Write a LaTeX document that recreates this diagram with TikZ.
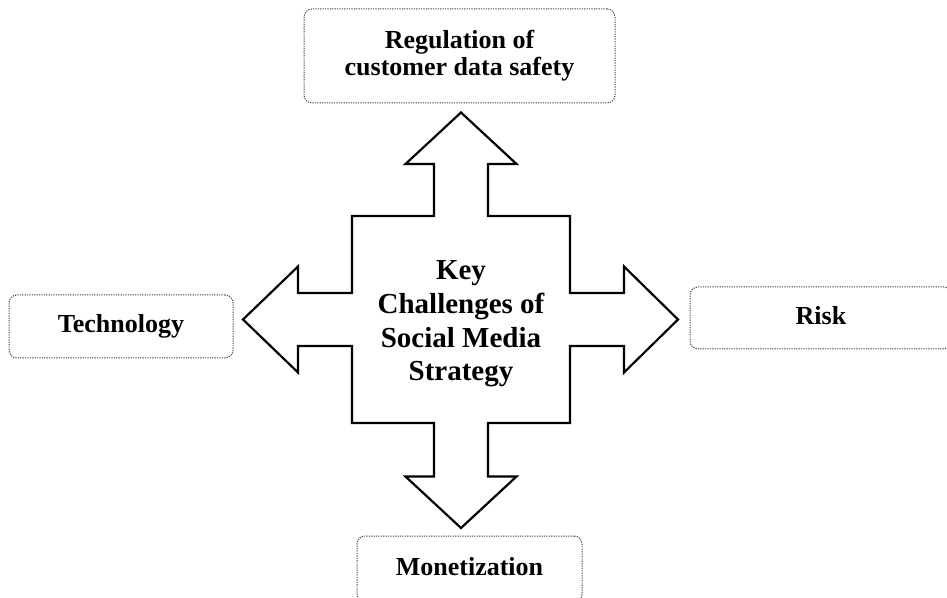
\documentclass[tikz,border=0pt]{standalone}
\usepackage{fontspec}
\setmainfont{Liberation Serif}

\begin{document}
\begin{tikzpicture}[x=0.5pt,y=-0.5pt,
  challenge/.style={draw=black!75,line width=0.5pt,dash pattern=on 0.6pt off 0.6pt,
    rounded corners=4pt,align=center,font=\fontsize{13}{13.5}\selectfont\bfseries},
  oneline/.style={text height=9pt,text depth=2.8pt}]
  \useasboundingbox (0,0) rectangle (947,598);
  \coordinate (ctr) at (461,319.5);
  % four-way arrow
  \begin{scope}[shift={(ctr)}]
    \draw[line width=1.1pt,line join=miter]
      (0,-207) -- (55.5,-155.5) -- (27,-155.5) -- (27,-103.5) -- (109,-103.5)
      -- (109,-26.5) -- (163,-26.5) -- (163,-53) -- (217,0) -- (163,53)
      -- (163,26.5) -- (109,26.5) -- (109,103.5) -- (27,103.5) -- (27,157)
      -- (55.5,157) -- (0,208.5) -- (-55.5,157) -- (-27,157) -- (-27,103.5)
      -- (-109,103.5) -- (-109,26.5) -- (-163,26.5) -- (-163,53) -- (-218,0)
      -- (-163,-53) -- (-163,-26.5) -- (-109,-26.5) -- (-109,-103.5)
      -- (-27,-103.5) -- (-27,-155.5) -- (-55.5,-155.5) -- cycle;
  \end{scope}
  \node[font=\fontsize{14.5}{16.8}\selectfont\bfseries,align=center] (hub) at (461,324)
    {Key\\Challenges of\\Social Media\\Strategy};
  \node[challenge,minimum width=155.5pt,minimum height=47pt] (reg) at (459.5,56)
    {Regulation of\\customer data safety};
  \node[challenge,oneline,minimum width=112pt,minimum height=31.5pt] (tech) at (121,326.5) {Technology};
  \node[challenge,oneline,minimum width=131pt,minimum height=31pt] (risk) at (821,318) {Risk};
  \node[challenge,oneline,minimum width=112.5pt,minimum height=33pt] (money) at (469.5,569) {Monetization};
\end{tikzpicture}
\end{document}
